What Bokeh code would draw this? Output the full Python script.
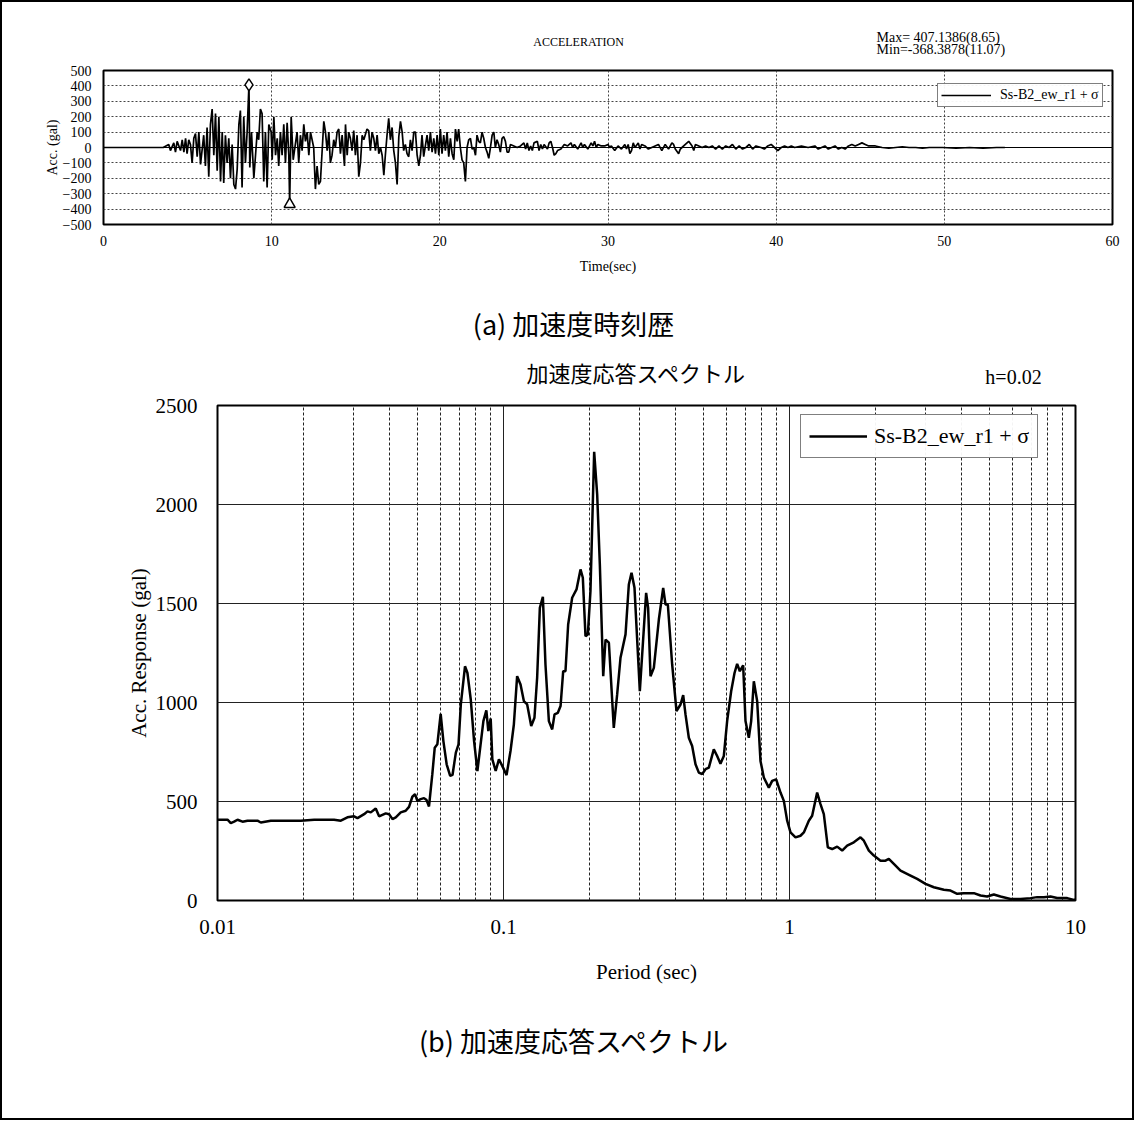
from bokeh.plotting import figure
from bokeh.models import (Range1d, FixedTicker, Span, Label, Legend, LegendItem,
                          CustomJSTickFormatter)
from bokeh.embed import file_html
from bokeh.resources import INLINE

SERIF = "Liberation Serif"
JP = "Noto Sans CJK JP"

# ---------------- (a) acceleration time history (t [s], acc [gal]) ----------------
ACC_SEG1 = [
    (0.0, 0), (3.55, 0), (3.88, 20), (3.98, -20), (4.18, 30), (4.28, -30), (4.38, 40),
    (4.58, -20), (4.68, 50), (4.78, -30), (4.88, 60), (4.97, -40), (5.07, 50), (5.17, 20),
    (5.27, -100), (5.37, 60), (5.47, 90), (5.57, -60), (5.67, 100), (5.77, -110), (5.96, 80),
    (6.06, -120), (6.16, 130), (6.26, -190), (6.36, 150), (6.46, 250), (6.56, -50), (6.66, 220),
    (6.76, -150), (6.86, 200), (6.96, -220), (7.06, 100), (7.15, -230), (7.25, 80), (7.35, -100),
    (7.45, 60), (7.55, -200), (7.65, 20), (7.75, -240), (7.85, -270), (7.95, -140), (8.05, 150),
    (8.14, 240), (8.24, -260), (8.34, 200), (8.44, -100), (8.54, 100), (8.65, 407.1386),
    (8.70, -130), (8.80, 100), (8.94, -200), (9.04, -50), (9.14, 100), (9.23, 50), (9.33, 250),
    (9.43, 220), (9.53, -220), (9.63, 100), (9.73, -260), (9.83, 150), (9.97, 100), (10.03, -80),
    (10.13, 200), (10.23, -50), (10.33, 60), (10.42, -120), (10.52, 100), (10.62, -50),
    (10.72, 150), (10.82, -100), (10.92, 160), (11.02, -50), (11.07, -368.3878), (11.16, 200),
    (11.28, -80), (11.42, 30), (11.51, 100), (11.61, -100), (11.71, 80), (11.81, -20),
    (11.91, 150), (12.01, 40), (12.11, 100), (12.21, -50), (12.31, 100), (12.50, 0),
    (12.60, -270), (12.70, -120), (12.80, -240),
]
ACC_SEG2 = [
    (12.90, -220), (13.10, 170), (13.20, 100), (13.30, -20), (13.40, 100), (13.49, -100),
    (13.59, -50), (13.69, 50), (13.79, 0), (13.89, 100), (13.99, 120), (14.09, -40), (14.19, 80),
    (14.33, -120), (14.39, 150), (14.49, -50), (14.58, 100), (14.68, 60), (14.78, -20),
    (14.88, 110), (14.98, -50), (15.08, 80), (15.18, -190), (15.28, -100), (15.38, 80),
    (15.48, 50), (15.67, 120), (15.77, 110), (15.87, -20), (15.97, 100), (16.07, 60),
    (16.17, -20), (16.27, 80), (16.37, -40), (16.47, 0), (16.57, -50), (16.67, -180),
    (16.76, -50), (16.86, 80), (16.96, 190), (17.06, 50), (17.16, 130), (17.26, -20),
    (17.36, -100), (17.46, -240), (17.56, 70), (17.66, 170), (17.76, 100), (17.85, -20),
    (17.95, 20), (18.05, -40), (18.15, -60), (18.25, 50), (18.35, -20), (18.45, 100),
    (18.55, 100), (18.65, -50), (18.75, -120), (18.85, -50), (18.94, 80), (19.04, -60),
    (19.24, 80), (19.34, -20), (19.44, 100), (19.54, -30), (19.64, 60), (19.74, -40),
    (19.84, 80), (19.94, -50), (20.03, 120), (20.13, -40), (20.23, 80), (20.33, -20),
    (20.43, 100), (20.53, -60), (20.63, 60), (20.73, -40), (20.83, -80), (20.93, 120),
    (21.03, 40), (21.12, 120), (21.22, 0), (21.32, -80), (21.42, -100), (21.52, -220),
    (21.62, 0), (21.72, 50), (21.82, 60), (21.92, -10), (22.02, 0), (22.12, -50), (22.21, 80),
    (22.31, 40), (22.41, 30), (22.51, 100), (22.61, 60), (22.71, 0), (22.81, -30), (22.91, -70),
    (23.01, 0), (23.11, 80), (23.21, 100), (23.30, 0), (23.40, 50), (23.50, 20),
]
ACC_SEG3 = [
    (23.6, -30), (23.7, 60), (23.8, 70), (23.9, 40), (24.0, -30), (24.1, -30), (24.2, 20),
    (24.4, 10), (24.6, 0), (24.8, 10), (25.0, 30), (25.1, -10), (25.2, 30), (25.3, -20),
    (25.4, 10), (25.5, -20), (25.6, 30), (25.8, 40), (25.9, -20), (26.0, 20), (26.1, -10),
    (26.2, 20), (26.4, -10), (26.5, 30), (26.6, 40), (26.7, 0), (26.8, -50), (26.9, -40),
    (27.0, -20), (27.2, -10), (27.4, 20), (27.6, 10), (27.8, 30), (27.9, 0), (28.0, 20),
    (28.2, -10), (28.4, 30), (28.5, 0), (28.6, 20), (28.8, -10), (29.0, 30), (29.1, 10),
    (29.2, 40), (29.3, 0), (29.4, 20), (29.6, 10), (29.8, 10), (30.0, 20), (30.1, 0),
    (30.2, 10), (30.4, -20), (30.6, 10), (30.8, -10), (31.0, 20), (31.1, -10), (31.2, 20),
    (31.3, -40), (31.4, -20), (31.5, 30), (31.6, 0), (31.8, 30), (31.9, -10), (32.0, 20),
    (32.2, 10), (32.4, -10), (32.6, 0), (32.8, 10), (33.0, 20), (33.2, -20), (33.4, 20),
    (33.6, -10), (33.8, 30), (33.9, 20), (34.0, -10), (34.2, -40), (34.3, -10), (34.4, 0),
    (34.6, 20), (34.8, 40), (35.0, 10), (35.1, -20), (35.2, 20), (35.4, 10), (35.6, 0),
    (35.8, 10), (36.0, 0), (36.2, 10), (36.4, -10), (36.6, 10), (36.8, -10), (37.0, 10),
    (37.2, 0), (37.4, 20), (37.6, -10), (37.8, 10), (38.0, -10), (38.2, 0), (38.4, 20),
    (38.6, -10), (38.8, 10), (39.1, 0), (39.3, -10), (39.5, 10), (39.7, 20), (39.9, 0),
    (40.1, -20), (40.3, 0), (40.5, 10), (40.7, 0), (40.9, 10), (41.1, 0), (41.5, 10),
    (41.9, 0), (42.3, 10), (42.5, -10), (42.7, 0), (42.9, 10), (43.1, -10), (43.3, 0),
    (43.5, 10), (43.7, -10), (43.9, 0), (44.1, -10), (44.3, 10), (44.5, 20), (44.7, 10),
    (44.9, 20), (45.1, 30), (45.3, 20), (45.5, 10), (45.9, 10), (46.3, 0), (46.7, -5),
    (47.1, 0), (47.5, 5), (47.9, 0), (48.3, 0), (48.7, -5), (49.1, 0), (49.9, 0), (50.7, -5),
    (51.5, 0), (52.3, -5), (53.1, 0), (53.6, 0),
]
ACC_MAX = (8.65, 407.1386)
ACC_MIN = (11.07, -368.3878)
X_TICKS_A = [0, 10, 20, 30, 40, 50, 60]
Y_TICKS_A = [-500, -400, -300, -200, -100, 0, 100, 200, 300, 400, 500]

# ---------------- (b) acceleration response spectrum (h=0.02) ----------------
PERIOD = [
    0.0100, 0.01055, 0.01084, 0.01113, 0.01143, 0.01175, 0.01223, 0.01273, 0.01380, 0.01417, 0.01536, 0.01955,
    0.02178, 0.02556, 0.02699, 0.02846, 0.03003, 0.03086, 0.03256, 0.03345, 0.03436, 0.03575,
    0.03673, 0.03875, 0.03981, 0.04090, 0.04201, 0.04372, 0.04550, 0.04674, 0.04801, 0.04906,
    0.04997, 0.05133, 0.05273, 0.05383, 0.05489, 0.05638, 0.05749, 0.05871, 0.06030, 0.06163,
    0.06328, 0.06510, 0.06633, 0.06814, 0.06962, 0.07092, 0.07335, 0.07480, 0.07683, 0.07891,
    0.08105, 0.08505, 0.0871, 0.0885, 0.0902, 0.0914, 0.0939, 0.0964, 0.0990, 0.1025,
    0.1058, 0.1087, 0.1116, 0.1147, 0.1178, 0.1210, 0.1250, 0.1283, 0.1311, 0.1340,
    0.1373, 0.1402, 0.1441, 0.1480, 0.1508, 0.1549, 0.1583, 0.1617, 0.1647, 0.1683,
    0.1738, 0.1800, 0.1859, 0.1894, 0.1935, 0.1972, 0.2014, 0.2075, 0.2126, 0.2172,
    0.2232, 0.2274, 0.2336, 0.2430, 0.2497, 0.2565, 0.2671, 0.2743, 0.2803, 0.2871,
    0.2997, 0.3153, 0.3204, 0.3266, 0.3355, 0.3493, 0.3617, 0.3685, 0.3755, 0.3888,
    0.4026, 0.4159, 0.4249, 0.4329, 0.4446, 0.4567, 0.4692, 0.4819, 0.4951, 0.5085,
    0.5224, 0.5436, 0.5585, 0.5736, 0.5893, 0.6053, 0.6252, 0.6423, 0.6561, 0.6703,
    0.6886, 0.7017, 0.7208, 0.7345, 0.7504, 0.7708, 0.7917, 0.8132, 0.8466, 0.8697,
    0.8982, 0.9302, 0.9555, 0.9815, 1.0081, 1.0496, 1.0926, 1.1223, 1.1684, 1.2001,
    1.2493, 1.2834, 1.3183, 1.3614, 1.4099, 1.4678, 1.5280, 1.5907, 1.6786, 1.7711,
    1.8196, 1.8944, 1.9721, 2.0807, 2.1659, 2.2250, 2.3164, 2.4440, 2.6491, 2.7952,
    2.9890, 3.1970, 3.4653, 3.6559, 3.8574, 4.0699, 4.4118, 4.6546, 4.9109, 5.1813,
    5.4666, 5.9265, 6.4236, 6.9635, 7.3466, 7.7510, 8.1777, 8.6280, 9.3530, 9.8675, 10.0,
]
SA = [
    408, 408, 408, 391, 398, 408, 398, 403, 403, 394, 403, 403,
    408, 408, 403, 420, 425, 416, 436, 450, 445, 465,
    425, 440, 436, 411, 420, 445, 453, 473, 524, 537,
    503, 512, 517, 507, 475, 638, 772, 789, 943, 805,
    688, 629, 634, 747, 789, 990, 1183, 1149, 1015, 805,
    654, 906, 960, 856, 919, 713, 654, 713, 680, 633,
    755, 889, 1133, 1091, 1007, 990, 881, 923, 1125, 1478,
    1534, 1192, 906, 864, 940, 948, 982, 1158, 1158, 1394,
    1529, 1571, 1672, 1630, 1335, 1344, 1562, 2266, 2050, 1697,
    1133, 1318, 1302, 872, 1041, 1226, 1344, 1596, 1655, 1579,
    1057, 1554, 1478, 1133, 1175, 1419, 1579, 1495, 1495, 1192,
    957, 990, 1037, 940, 822, 780, 688, 646, 638, 663,
    671, 763, 730, 691, 730, 906, 1057, 1149, 1195, 1158,
    1188, 906, 822, 906, 1107, 1007, 705, 621, 570, 604,
    612, 545, 503, 403, 344, 319, 327, 344, 403, 428,
    545, 487, 436, 268, 260, 272, 252, 277, 294, 319,
    302, 252, 227, 201, 201, 210, 185, 151, 126, 109,
    84, 67, 54, 50, 34, 37, 37, 25, 20, 30,
    20, 8, 8, 12, 17, 17, 20, 13, 12, 3, 5,
]
X_TICKS_B = [0.01, 0.1, 1, 10]
X_MINOR_B = [m * d for d in (0.01, 0.1, 1) for m in range(2, 10)]
Y_TICKS_B = [0, 500, 1000, 1500, 2000, 2500]

pts = ACC_SEG1 + ACC_SEG2 + ACC_SEG3
TIME = [p[0] for p in pts]
ACC = [p[1] for p in pts]


def style_axes(p, size, label_size):
    for ax in list(p.xaxis) + list(p.yaxis):
        ax.major_tick_line_color = None
        ax.minor_tick_line_color = None
        ax.axis_line_color = None
        ax.major_label_text_font = SERIF
        ax.major_label_text_font_size = size
        ax.major_label_text_color = "black"
        ax.axis_label_text_font = SERIF
        ax.axis_label_text_font_size = label_size
        ax.axis_label_text_font_style = "normal"
        ax.axis_label_text_color = "black"


def text(x, y, s, font, size, align="center"):
    return Label(x=x, y=y, text=s, text_font=font, text_font_size=size,
                 text_color="black", text_align=align, text_baseline="middle")


# ---------------- figure (a) ----------------
pa = figure(width=1134, height=350, x_range=Range1d(0, 60), y_range=Range1d(-500, 500),
            output_backend="svg", toolbar_location=None,
            min_border_left=101, min_border_right=24, min_border_top=68, min_border_bottom=128,
            styles={"border-top": "2px solid black", "border-left": "2px solid black",
                    "border-right": "2px solid black"})
pa.outline_line_color = "black"
pa.outline_line_width = 2
pa.xaxis.ticker = FixedTicker(ticks=X_TICKS_A)
pa.yaxis.ticker = FixedTicker(ticks=Y_TICKS_A)
pa.xaxis.axis_label = "Time(sec)"
pa.yaxis.axis_label = "Acc. (gal)"
style_axes(pa, "14px", "14px")
pa.xaxis.major_label_standoff = 5
pa.yaxis.major_label_standoff = 6
pa.xaxis.axis_label_standoff = 10
pa.yaxis.axis_label_standoff = 0
for g in (pa.xgrid, pa.ygrid):
    g.grid_line_color = "#444444"
    g.grid_line_dash = "2 2"
    g.grid_line_width = 1
pa.add_layout(Span(location=0, dimension="width", line_color="black", line_width=1))

ra = pa.line(TIME, ACC, line_color="black", line_width=1.7)
pa.scatter([ACC_MAX[0]], [ACC_MAX[1]], marker="diamond", size=12,
           fill_color="white", line_color="black", line_width=1.5)
pa.scatter([ACC_MIN[0]], [ACC_MIN[1]], marker="triangle", size=11,
           fill_color="white", line_color="black", line_width=1.5)

leg_a = Legend(items=[LegendItem(label="Ss-B2_ew_r1 + σ", renderers=[ra])],
               location=(834, 117), padding=3, spacing=0, margin=0,
               glyph_width=50, glyph_height=14, label_height=14, label_standoff=9,
               label_text_font=SERIF, label_text_font_size="14px", label_text_color="black",
               border_line_color="black", border_line_width=1)
pa.add_layout(leg_a)

pa.add_layout(text(28.25, 682, "ACCELERATION", SERIF, "12px"), "above")
pa.add_layout(text(45.97, 714, "Max= 407.1386(8.65)", SERIF, "14px", "left"), "above")
pa.add_layout(text(45.97, 636, "Min=-368.3878(11.07)", SERIF, "14px", "left"), "above")
pa.add_layout(text(27.95, -1143, "(a) 加速度時刻歴", JP, "27px"), "below")

# ---------------- figure (b) ----------------
pb = figure(width=1134, height=770, x_axis_type="log", x_range=Range1d(0.01, 10),
            y_range=Range1d(0, 2500), output_backend="svg", toolbar_location=None,
            min_border_left=215, min_border_right=61, min_border_top=55, min_border_bottom=220,
            styles={"border-bottom": "2px solid black", "border-left": "2px solid black",
                    "border-right": "2px solid black"})
pb.outline_line_color = "black"
pb.outline_line_width = 2
pb.xaxis.ticker = FixedTicker(ticks=X_TICKS_B, minor_ticks=X_MINOR_B)
pb.yaxis.ticker = FixedTicker(ticks=Y_TICKS_B)
pb.xaxis.formatter = CustomJSTickFormatter(code="return String(Number(tick.toPrecision(6)));")
pb.xaxis.axis_label = "Period (sec)"
pb.yaxis.axis_label = "Acc. Response (gal)"
style_axes(pb, "21px", "21px")
pb.xaxis.major_label_standoff = 13
pb.yaxis.major_label_standoff = 14
pb.xaxis.axis_label_standoff = 23
pb.yaxis.axis_label_standoff = 2
pb.xgrid.grid_line_color = "#222222"
pb.xgrid.grid_line_width = 1
pb.xgrid.minor_grid_line_color = "#222222"
pb.xgrid.minor_grid_line_dash = "3 2"
pb.xgrid.minor_grid_line_width = 1
pb.ygrid.grid_line_color = "#222222"
pb.ygrid.grid_line_width = 1

rb = pb.line(PERIOD, SA, line_color="black", line_width=2.5)

leg_b = Legend(items=[LegendItem(label="Ss-B2_ew_r1 + σ", renderers=[rb])],
               location=(583, 442), padding=8, spacing=0, margin=0,
               glyph_width=58, glyph_height=22, label_height=22, label_standoff=7,
               label_text_font=SERIF, label_text_font_size="22px", label_text_color="black",
               border_line_color="black", border_line_width=1)
pb.add_layout(leg_b)

pb.add_layout(text(0.2917, 2667, "加速度応答スペクトル", JP, "22px"), "above")
pb.add_layout(text(4.84, 2646, "h=0.02", SERIF, "20px", "left"), "above")
pb.add_layout(text(0.177, -707, "(b) 加速度応答スペクトル", JP, "27px"), "below")

open("out.html", "w").write(file_html([pa, pb], INLINE))
